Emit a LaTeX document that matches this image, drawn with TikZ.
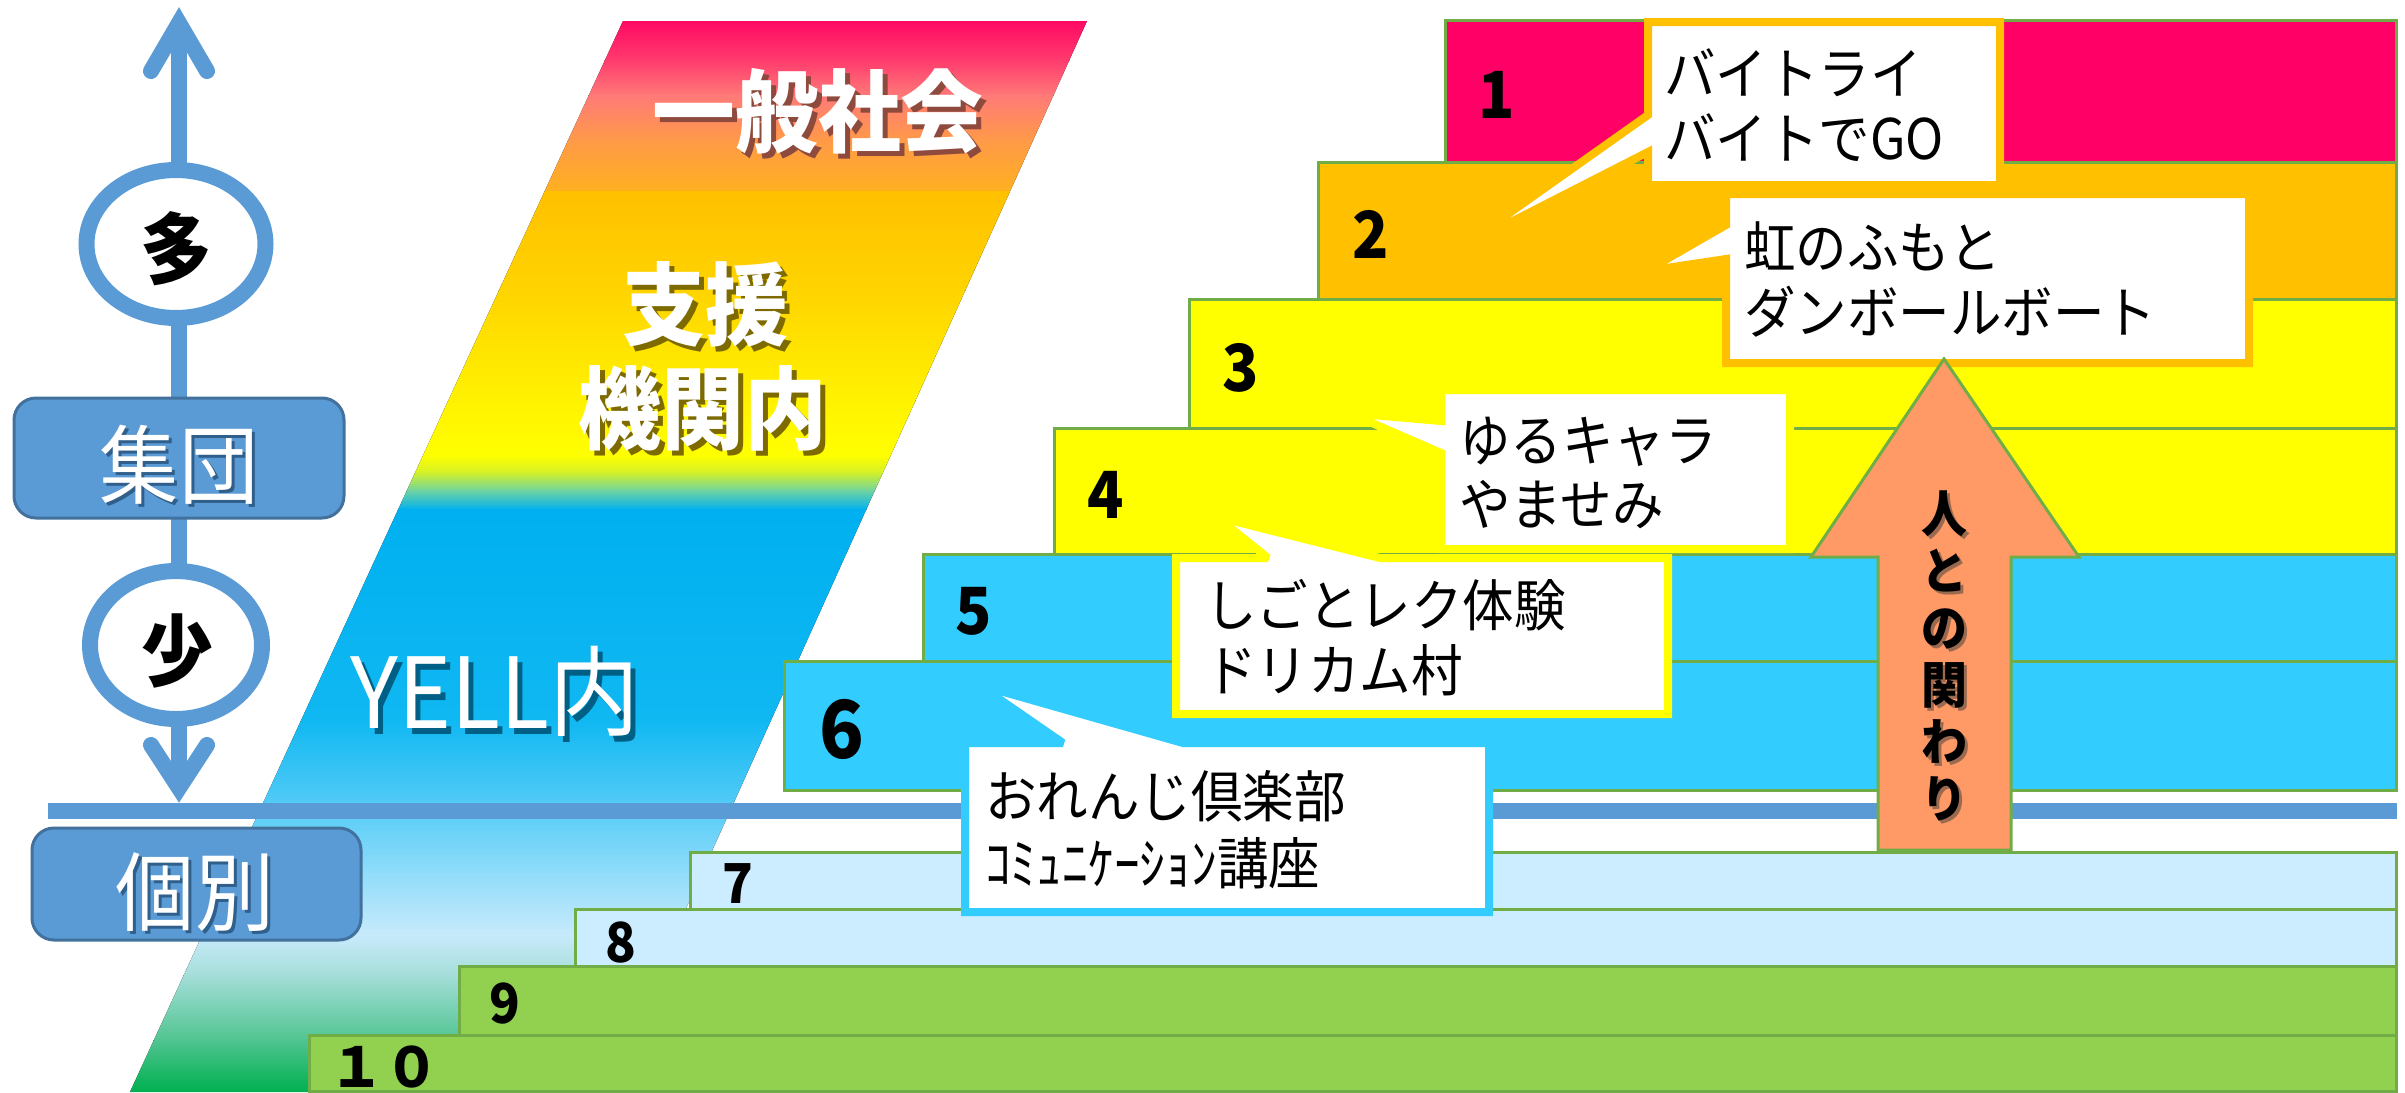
\documentclass[tikz,border=0pt]{standalone}
\usepackage{fontspec}
\setmainfont{Noto Sans CJK JP}
\newfontfamily\cj{Noto Sans CJK JP}[FakeStretch=0.92]
\newcommand\shtext[4]{\rlap{\hspace*{#2pt}\raisebox{-#3pt}{\textcolor{#1}{#4}}}#4}
\definecolor{axisblue}{HTML}{5B9BD5}
\definecolor{boxedge}{HTML}{41719C}
\definecolor{stepedge}{HTML}{70AD47}
\definecolor{s1}{HTML}{FF0066}
\definecolor{s2}{HTML}{FFC000}
\definecolor{s3}{HTML}{FFFF00}
\definecolor{s5}{HTML}{33CCFF}
\definecolor{s7}{HTML}{CCECFF}
\definecolor{s9}{HTML}{92D050}
\definecolor{arrowfill}{HTML}{FF9966}
\definecolor{yshadow}{HTML}{005F85}
\definecolor{pshadow}{HTML}{8E4A3C}
\definecolor{oshadow}{HTML}{7D6A00}
\definecolor{bshadow}{HTML}{2F5F8A}
\definecolor{vshade}{HTML}{9A6A50}
\definecolor{c01}{HTML}{FF0A64}
\definecolor{c02}{HTML}{FF3C6E}
\definecolor{c03}{HTML}{FF7A78}
\definecolor{c04}{HTML}{FF9A48}
\definecolor{c05}{HTML}{FFB020}
\definecolor{c06}{HTML}{FFC000}
\definecolor{c07}{HTML}{FFD400}
\definecolor{c08}{HTML}{FFF200}
\definecolor{c09}{HTML}{FFFF00}
\definecolor{c10}{HTML}{D4F028}
\definecolor{c11}{HTML}{70D4A0}
\definecolor{c12}{HTML}{00B0F0}
\definecolor{c13}{HTML}{10B8F2}
\definecolor{c14}{HTML}{50CAF6}
\definecolor{c15}{HTML}{8EDCFA}
\definecolor{c16}{HTML}{C8EAFB}
\definecolor{c17}{HTML}{A4DED8}
\definecolor{c18}{HTML}{50C490}
\definecolor{c19}{HTML}{00B050}
\begin{document}
\begin{tikzpicture}[x=1pt,y=-1pt,
  stepbox/.style={draw=stepedge, line width=3pt},
  callout/.style={fill=white, line width=8pt, line join=miter, miter limit=2},
  ctext/.style={anchor=base west, inner sep=0pt, font=\cj\fontsize{56}{65}\selectfont},
  num/.style={anchor=base, inner sep=0pt, font=\cj\bfseries\fontsize{65}{70}\selectfont},
  numsmall/.style={anchor=base, inner sep=0pt, font=\cj\bfseries\fontsize{55}{60}\selectfont},
  bandtxt/.style={anchor=base, inner sep=0pt, text=white, font=\cj\bfseries\fontsize{90}{90}\selectfont},
  lvltxt/.style={anchor=base, inner sep=0pt, text=white, font=\cj\fontsize{86}{86}\selectfont},
  circtxt/.style={anchor=base, inner sep=0pt, font=\cj\bfseries\fontsize{78}{78}\selectfont},
  vtxt/.style={anchor=base, inner sep=0pt, font=\cj\bfseries\fontsize{50}{50}\selectfont},
  lvlbox/.style={fill=axisblue, draw=boxedge, line width=3pt, rounded corners=22pt},
  ring/.style={fill=white, draw=axisblue, line width=16pt}
]
\useasboundingbox (0,0) rectangle (2405,1092);
\fill[white] (0,0) rectangle (2405,1092);

% ---------- rainbow band ----------
\begin{scope}
\clip (623,21) -- (1087,21) -- (603,1092) -- (130,1092) -- cycle;
\fill[top color=c01, bottom color=c02] (100,21) rectangle (1100,61);
\fill[top color=c02, bottom color=c03] (100,60) rectangle (1100,96);
\fill[top color=c03, bottom color=c04] (100,95) rectangle (1100,141);
\fill[top color=c04, bottom color=c05] (100,140) rectangle (1100,191);
\fill[top color=c06, bottom color=c07] (100,191) rectangle (1100,291);
\fill[top color=c07, bottom color=c08] (100,290) rectangle (1100,401);
\fill[top color=c08, bottom color=c09] (100,400) rectangle (1100,456);
\fill[top color=c09, bottom color=c10] (100,455) rectangle (1100,473);
\fill[top color=c10, bottom color=c11] (100,472) rectangle (1100,491);
\fill[top color=c11, bottom color=c12] (100,490) rectangle (1100,510);
\fill[top color=c12, bottom color=c13] (100,509) rectangle (1100,721);
\fill[top color=c13, bottom color=c14] (100,720) rectangle (1100,801);
\fill[top color=c14, bottom color=c15] (100,800) rectangle (1100,871);
\fill[top color=c15, bottom color=c16] (100,870) rectangle (1100,936);
\fill[top color=c16, bottom color=c17] (100,935) rectangle (1100,976);
\fill[top color=c17, bottom color=c18] (100,975) rectangle (1100,1041);
\fill[top color=c18, bottom color=c19] (100,1040) rectangle (1100,1092);
\end{scope}

\node[bandtxt] (ippan) at (818,145) {\shtext{pshadow}{5}{5}{一般社会}};
\node[bandtxt] (shien) at (705,338) {\shtext{oshadow}{5}{5}{支援}};
\node[bandtxt] (kikan) at (703,442) {\shtext{oshadow}{5}{5}{機関内}};
\node[anchor=base, inner sep=0pt, text=white, font=\cj\fontsize{98}{98}\selectfont] (yell) at (495,728) {\shtext{yshadow}{5}{6}{YELL内}};

% ---------- horizontal line ----------
\coordinate (hl1) at (48,811);
\coordinate (hl2) at (2397,811);
\draw[axisblue, line width=16pt] (hl1) -- (hl2);

% ---------- steps ----------
\draw[stepbox, fill=s9] (309,1035) rectangle (2396,1091);
\draw[stepbox, fill=s9] (459,966) rectangle (2396,1035);
\draw[stepbox, fill=s7] (575,909) rectangle (2396,966);
\draw[stepbox, fill=s7] (690,852) rectangle (2396,909);
\draw[stepbox, fill=s5] (784,661) rectangle (2396,790);
\draw[stepbox, fill=s5] (923,554) rectangle (2396,661);
\draw[stepbox, fill=s3] (1054,428) rectangle (2396,554);
\draw[stepbox, fill=s3] (1189,299) rectangle (2396,428);
\draw[stepbox, fill=s2] (1318,162) rectangle (2396,299);
\draw[stepbox, fill=s1] (1445,20) rectangle (2396,162);

\node[num] (n1) at (1497,118) {1};
\node[num] (n2) at (1371,258) {2};
\node[num] (n3) at (1241,391) {3};
\node[num] (n4) at (1106,518) {4};
\node[num] (n5) at (974,634) {5};
\node[anchor=base, inner sep=0pt, font=\cj\bfseries\fontsize{80}{80}\selectfont] (n6) at (842,758) {6};
\node[numsmall] (n7) at (738,903) {7};
\node[numsmall] (n8) at (621,962) {8};
\node[numsmall] (n9) at (505,1023) {9};
\node[anchor=base, inner sep=0pt, font=\bfseries\fontsize{55}{60}\selectfont] (n10) at (384,1087) {１０};

% ---------- callouts ----------
\draw[callout, draw=s2] (1648,22) -- (2000,22) -- (2000,185) -- (1648,185) -- (1648,152) -- (1460,248) -- (1648,115) -- cycle;
\node[ctext] (ta1) at (1664,94) {バイトライ};
\node[ctext] (ta2) at (1664,159) {バイトでGO};

\draw[callout, draw=s2] (1726,194) -- (2249,194) -- (2249,363) -- (1726,363) -- (1726,259) -- (1646,271) -- (1726,225) -- cycle;
\node[ctext] (tb1) at (1744,268) {虹のふもと};
\node[ctext] (tb2) at (1744,333) {ダンボールボート};

\draw[callout, draw=s3] (1441,390) -- (1790,390) -- (1790,549) -- (1441,549) -- (1441,453) -- (1349,413) -- (1441,421) -- cycle;
\node[ctext] (tc1) at (1459,461) {ゆるキャラ};
\node[ctext] (tc2) at (1459,525) {やませみ};

\draw[callout, draw=s3] (1176,558) -- (1268,558) -- (1217,517) -- (1380,558) -- (1668,558) -- (1668,714) -- (1176,714) -- cycle;
\node[ctext] (td1) at (1205,626) {しごとレク体験};
\node[ctext] (td2) at (1205,691) {ドリカム村};

\draw[callout, draw=s5] (965,743) -- (1063,743) -- (979,685) -- (1183,743) -- (1489,743) -- (1489,912) -- (965,912) -- cycle;
\node[ctext] (te1) at (985,817) {おれんじ倶楽部};
\node[ctext] (te2) at (985,884) {ｺﾐｭﾆｹｰｼｮﾝ講座};

% ---------- big arrow ----------
\draw[fill=arrowfill, draw=stepedge, line width=3pt, line join=miter] (1944,359) -- (2079,557) -- (2011,557) -- (2011,850) -- (1878,850) -- (1878,557) -- (1811,557) -- cycle;
\foreach \ch/\yy [count=\k] in {人/532, と/589, の/646, 関/703, わ/760, り/817} {
  \node[vtxt] (v\k) at (1944,\yy) {\shtext{vshade}{3}{3}{\ch}};
}

% ---------- left axis ----------
\draw[axisblue, line width=16pt] (179,30) -- (179,790);
\draw[axisblue, line width=16pt, line cap=round, line join=miter] (151,71) -- (179,23) -- (207,71);
\draw[axisblue, line width=16pt, line cap=round, line join=miter] (151,745) -- (179,788) -- (207,745);

\draw[ring] (176,244) ellipse [x radius=89.5, y radius=74];
\node[circtxt] (ta) at (176,278) {多};
\draw[ring] (176,645) ellipse [x radius=86, y radius=74];
\node[circtxt] (sho) at (177,680) {少};

\draw[lvlbox] (14,398) rectangle (344,518);
\node[lvltxt] (shudan) at (179,497) {\shtext{bshadow}{3}{3}{集団}};
\draw[lvlbox] (32,828) rectangle (361,940);
\node[lvltxt] (kobetsu) at (195,924) {\shtext{bshadow}{3}{3}{個別}};
\end{tikzpicture}
\end{document}
